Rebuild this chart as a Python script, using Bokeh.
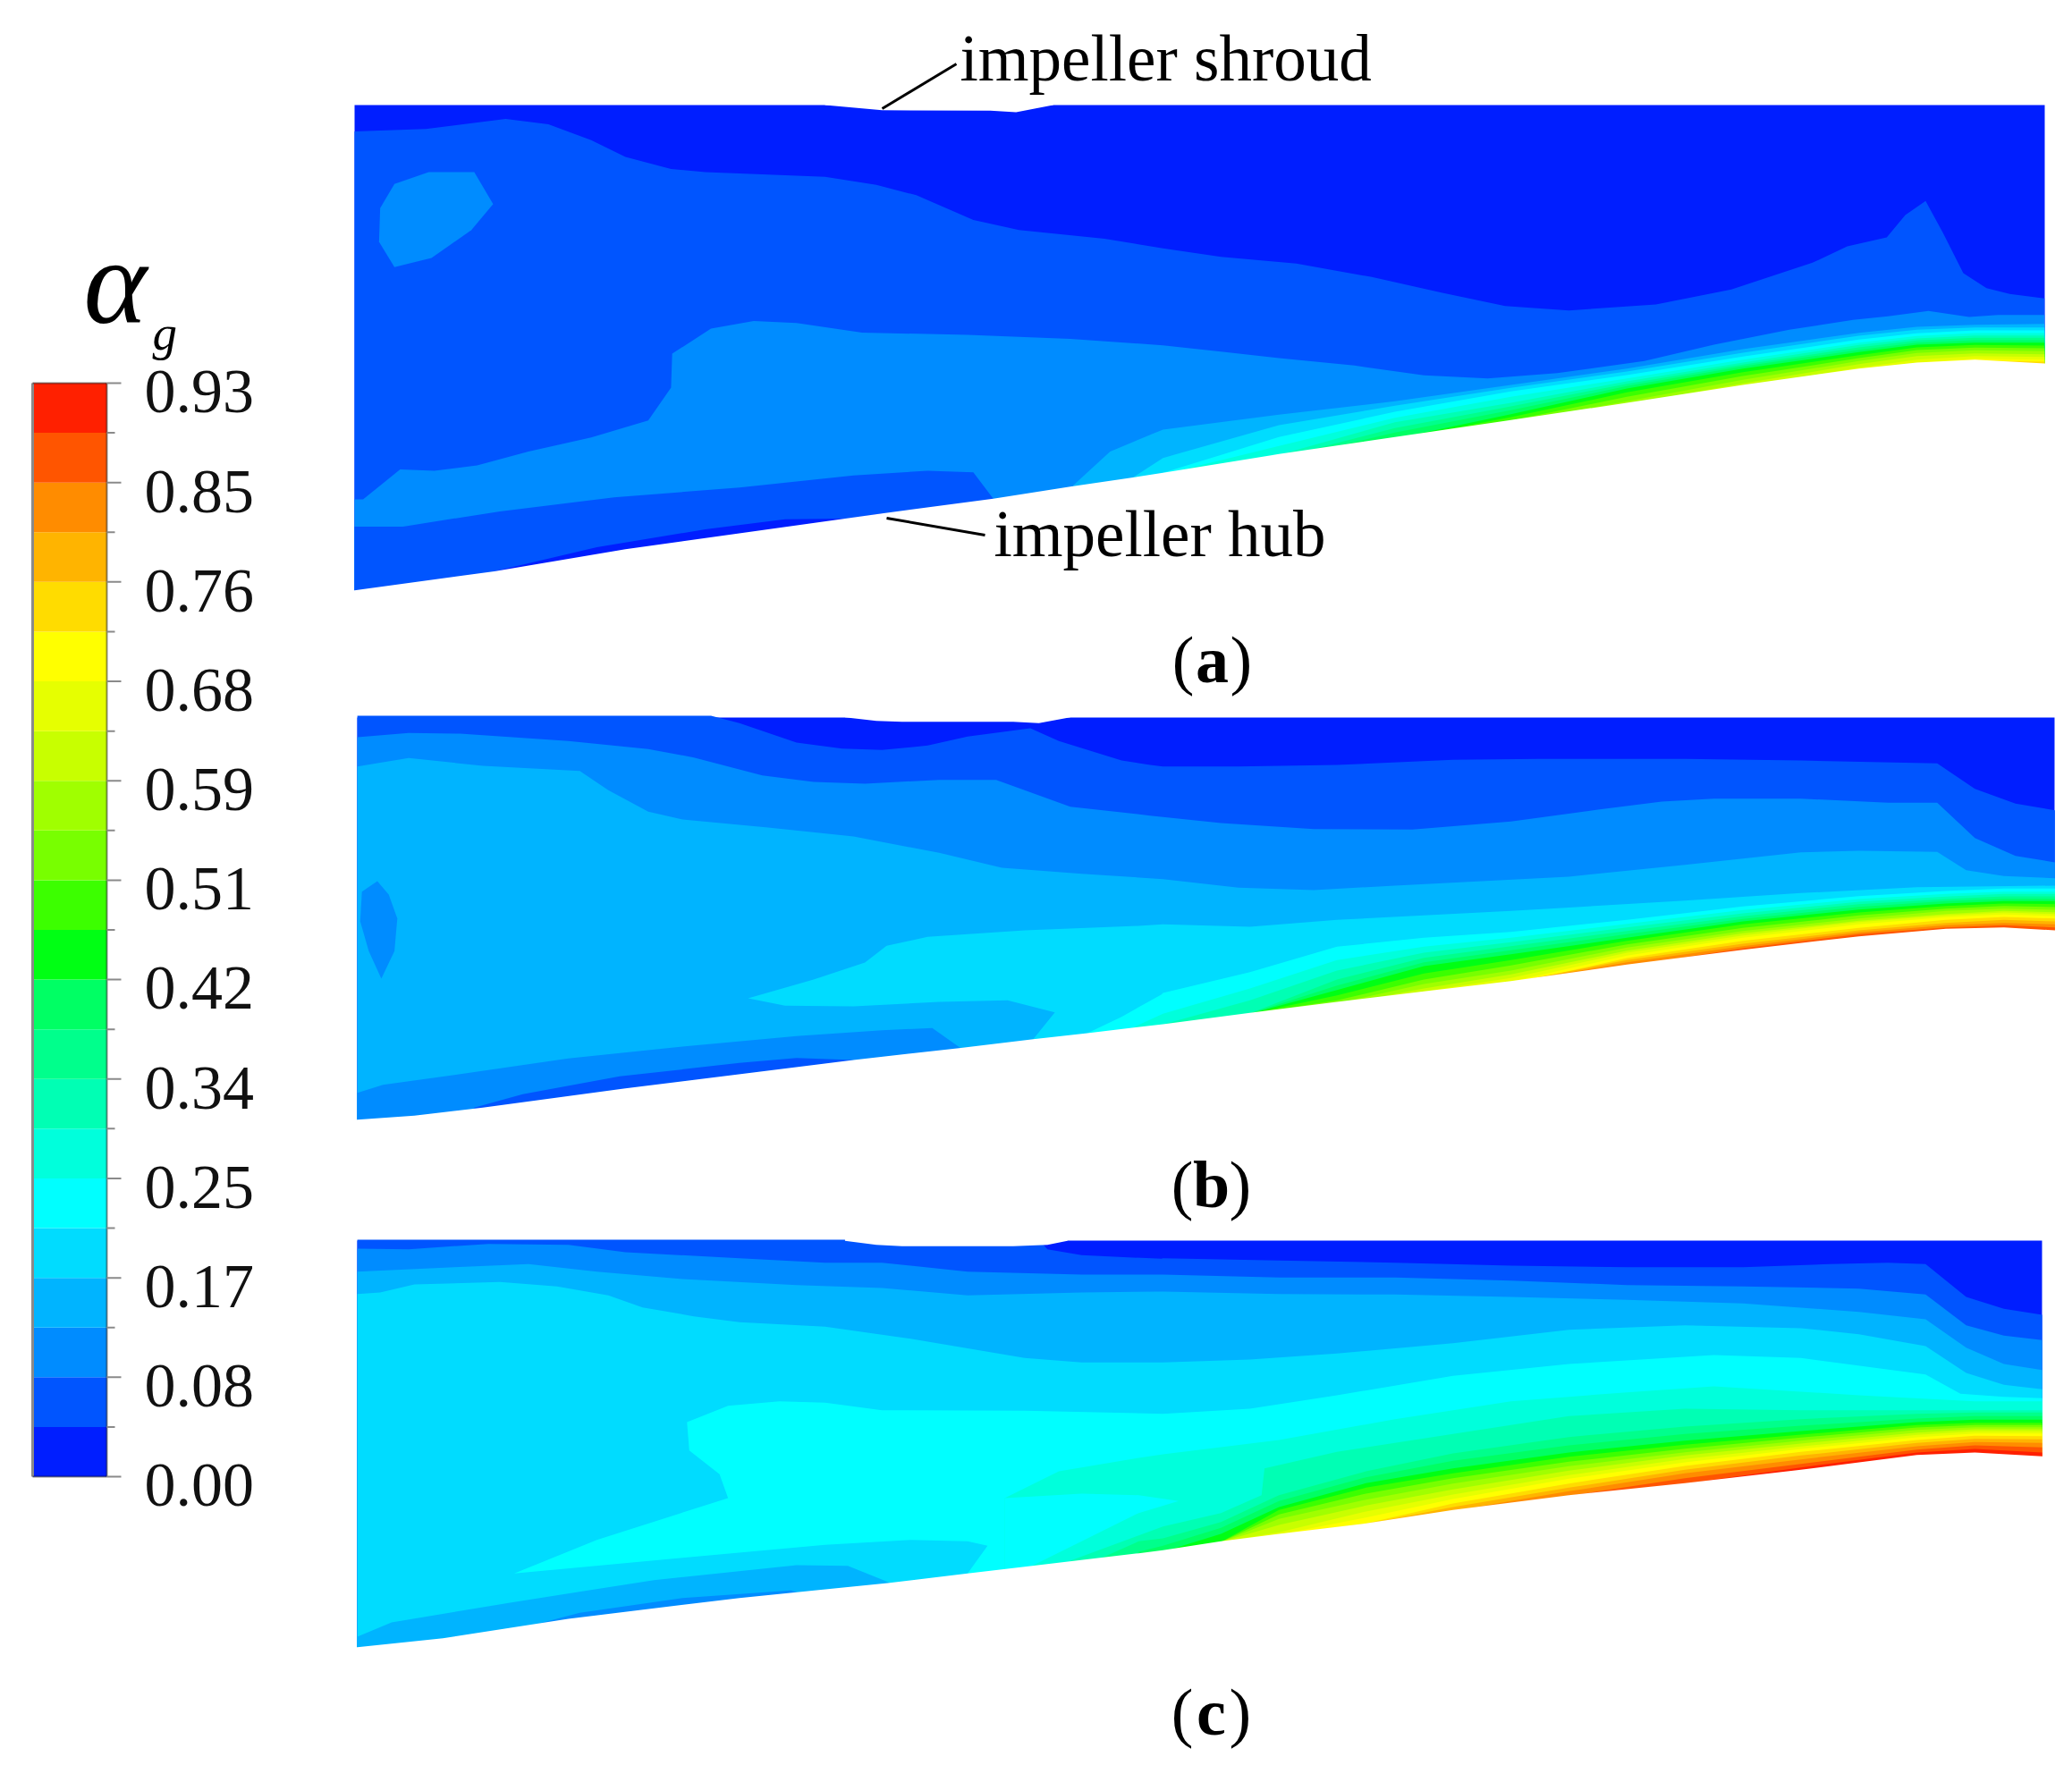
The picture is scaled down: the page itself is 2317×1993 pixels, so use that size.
from bokeh.embed import file_html
from bokeh.resources import INLINE
from bokeh.plotting import figure
from bokeh.core.properties import value

# ---- colour scale -------------------------------------------------------
BAND_COLORS = ["#001eff", "#0055ff", "#008cff", "#00b4ff", "#00dcff", "#00ffff",
               "#00ffdc", "#00ffb4", "#00ff8c", "#00ff64", "#00ff14", "#3cff00",
               "#78ff00", "#a0ff00", "#c8ff00", "#e6ff00", "#ffff00", "#ffdc00",
               "#ffb400", "#ff8c00", "#ff5500", "#ff2000"]
TICK_LABELS = ["0.00", "0.08", "0.17", "0.25", "0.34", "0.42",
               "0.51", "0.59", "0.68", "0.76", "0.85", "0.93"]

# Reading frames: origin x, origin y, x scale, y scale of contour readings
FA_L, FA_R = (380, 0, 1.568, 2.24), (1300, 100, 1.542, 3)
FB_L, FB_R = (380, 790, 1.568, 3), (1300, 790, 1.542, 3)
FC_L, FC_R = (380, 1370, 1.568, 3), (1300, 1370, 1.542, 3)

# ---- panel (a) ----------------------------------------------------------
A_SHROUD = [(850, 262), (950, 275), (1140, 276), (1185, 280), (1250, 262)]
A_HUB_L = [(25, 1478), (270, 1430), (500, 1375), (950, 1285), (1145, 1248), (1280, 1218), (1390, 1195)]
A_X = [0, 200, 400, 600, 800, 1000, 1200, 1300, 1400, 1520]
A_HUB_R = [1285, 1222, 1165, 1108, 1050, 990, 935, 915, 905, 918]
A_L1_L = [(25, 328), (150, 322), (290, 297), (365, 310), (440, 350), (500, 392), (580, 422), (640, 430),
          (850, 442), (940, 462), (1010, 488), (1110, 550), (1190, 575), (1340, 597)]
A_L1_R = [(0, 532), (100, 560), (230, 583), (360, 628), (480, 680), (590, 725), (700, 740), (850, 720), (980, 670),
          (1120, 580), (1180, 525), (1248, 495), (1280, 420), (1315, 373), (1345, 480), (1380, 615), (1420, 665),
          (1460, 685), (1520, 700)]
A_L2_L = [(25, 1250), (40, 1250), (105, 1175), (165, 1178), (240, 1165), (330, 1130), (440, 1095), (540, 1052),
          (580, 970), (582, 885), (650, 822), (725, 803), (800, 808), (915, 832), (1100, 838), (1280, 848)]
A_L2_R = [(0, 857), (100, 878), (200, 900), (330, 925), (450, 958), (560, 968), (680, 950), (830, 910), (950, 855),
          (1080, 805), (1190, 772), (1250, 760), (1320, 742), (1390, 762), (1440, 755), (1520, 755)]
A_POCKET1 = [(25, 1318), (110, 1318), (280, 1280), (480, 1245), (700, 1220), (900, 1190), (1030, 1178), (1110, 1182),
             (1145, 1248)]
A_SLIVER0 = [(270, 1430), (450, 1370), (640, 1325), (780, 1300), (890, 1298), (950, 1285)]
A_ISLAND2 = [(235, 430), (155, 430), (95, 460), (70, 520), (68, 605), (95, 668), (160, 645), (230, 575), (268, 510)]
A_L3_L = [(1285, 1215), (1350, 1130), (1425, 1085)]
A_L4_L = [(1390, 1195)]
A_L3 = [1140, 1090, 1045, 990, 935, 870, 815, 795, 788, 785]
A_L4 = [1235, 1125, 1060, 1000, 945, 882, 825, 805, 797, 797]
A_L5 = [1285, 1165, 1080, 1012, 957, 895, 838, 817, 807, 807]
A_L6 = [1290, 1195, 1100, 1030, 968, 905, 848, 826, 816, 816]
A_L7 = [1225, 1115, 1050, 978, 915, 856, 834, 824, 824]
A_L8 = [1235, 1135, 1062, 986, 922, 864, 841, 832, 832]
A_L9 = [1240, 1150, 1075, 994, 928, 872, 848, 840, 840]
A_L10 = [1170, 1088, 1002, 935, 880, 855, 848, 848]
A_L11 = [1172, 1098, 1015, 947, 890, 864, 856, 858]
A_L12 = [1109, 1030, 960, 900, 873, 865, 867]
A_L13 = [1115, 1045, 973, 910, 883, 874, 877]
A_L14 = [1055, 985, 920, 893, 884, 887]
A_L15 = [995, 932, 905, 893, 896]
A_L16 = [940, 915, 902, 905]
A_L17 = [920, 908, 912]

# ---- panel (b) ----------------------------------------------------------
B_SHROUD = [(885, 35), (940, 47), (985, 50), (1180, 50), (1225, 55), (1280, 35)]
B_HUB_L = [(30, 1385), (130, 1372), (250, 1345), (500, 1280), (900, 1185), (1085, 1145), (1215, 1115), (1310, 1095)]
B_X = [0, 150, 300, 450, 600, 800, 1000, 1200, 1350, 1450, 1538]
B_HUB_R = [1065, 1027, 990, 955, 920, 865, 815, 770, 745, 740, 750]
B_L1_L = [(30, 30), (650, 30), (700, 55), (800, 120), (880, 140), (950, 145), (1030, 130), (1100, 100), (1210, 72),
          (1260, 115), (1370, 180), (1420, 195)]
B_L1_R = [(0, 200), (130, 200), (300, 195), (500, 178), (650, 175), (900, 175), (1100, 180), (1335, 190), (1400, 275),
          (1470, 325), (1538, 347)]
B_L2_L = [(30, 102), (120, 88), (210, 90), (400, 115), (540, 142), (620, 170), (740, 230), (830, 252), (920, 258),
          (1050, 245), (1150, 245), (1280, 335), (1420, 365)]
B_L2_R = [(0, 370), (100, 390), (260, 410), (430, 412), (600, 385), (750, 345), (860, 318), (950, 308), (1100, 308),
          (1250, 322), (1335, 322), (1400, 440), (1470, 500), (1538, 522)]
B_L3_L = [(30, 200), (120, 172), (250, 198), (420, 215), (470, 280), (540, 352), (600, 378), (750, 405), (900, 435),
          (1050, 490), (1160, 540), (1300, 560)]
B_L3_R = [(0, 578), (130, 607), (260, 615), (400, 600), (700, 570), (900, 530), (1100, 488), (1200, 483), (1335, 487),
          (1385, 548), (1450, 568), (1538, 575)]
B_ISLAND2 = [(65, 585), (38, 620), (35, 720), (50, 820), (72, 912), (95, 820), (100, 710), (85, 630)]
B_POCKET2 = [(30, 1295), (75, 1268), (200, 1235), (400, 1180), (600, 1140), (800, 1105), (950, 1085), (1038, 1078),
             (1088, 1145)]
B_POCKET1 = [(235, 1345), (320, 1300), (490, 1240), (700, 1195), (800, 1178), (900, 1185)]
B_L4_L = [(1215, 1115), (1253, 1025), (1170, 985), (1050, 990), (900, 1005), (780, 1003), (715, 978), (830, 915),
          (920, 858), (958, 802), (1030, 772), (1200, 750), (1400, 735)]
B_L4_R = [(0, 730), (150, 738), (300, 715), (600, 685), (900, 650), (1100, 625), (1300, 605), (1538, 600)]
B_L5_L = [(1310, 1095), (1370, 1040), (1440, 965)]
B_L6_L = [(1380, 1085)]
B_L5 = [960, 890, 805, 775, 755, 715, 670, 635, 618, 610, 610]
B_L6 = [1030, 945, 850, 805, 775, 728, 682, 645, 628, 620, 620]
B_L7 = [1066, 985, 885, 825, 790, 740, 693, 654, 637, 628, 628]
B_L8 = [1028, 915, 842, 803, 752, 703, 662, 645, 636, 636]
B_L9 = [1029, 935, 857, 817, 763, 712, 671, 652, 644, 644]
B_L10 = [1030, 950, 870, 830, 775, 720, 680, 660, 652, 652]
B_L11 = [1030, 968, 895, 850, 785, 730, 690, 668, 660, 662]
B_L12 = [1030, 985, 915, 868, 797, 742, 700, 677, 668, 672]
B_L13 = [995, 930, 885, 808, 752, 710, 685, 677, 681]
B_L14 = [1000, 945, 898, 818, 760, 718, 695, 685, 689]
B_L15 = [1005, 955, 910, 825, 767, 722, 700, 690, 695]
B_L16 = [960, 922, 835, 775, 730, 706, 697, 702]
B_L17 = [965, 930, 843, 785, 742, 715, 705, 710]
B_L18 = [925, 850, 795, 750, 725, 715, 720]
B_L19 = [926, 857, 803, 757, 733, 725, 730]
B_L20 = [870, 810, 763, 740, 733, 740]

# ---- panel (c) ----------------------------------------------------------
C_SHROUD = [(885, 52), (940, 65), (985, 70), (1180, 70), (1240, 65), (1275, 52)]
C_HUB_L = [(30, 1415), (180, 1385), (400, 1320), (700, 1250), (960, 1200), (1100, 1168), (1200, 1145), (1400, 1100)]
C_X = [0, 100, 200, 350, 500, 700, 900, 1100, 1300, 1400, 1516]
C_HUB_R = [1090, 1060, 1035, 1000, 955, 905, 865, 820, 770, 762, 775]
C_L1_L = [(30, 48), (1225, 48), (1240, 80), (1300, 100), (1440, 112)]
C_L1_R = [(0, 110), (200, 118), (400, 125), (600, 135), (800, 140), (1000, 140), (1150, 130), (1250, 125), (1315, 130),
          (1385, 240), (1450, 280), (1516, 300)]
C_L2_L = [(30, 78), (120, 80), (260, 62), (400, 65), (500, 90), (700, 110), (850, 125), (950, 125), (1100, 155),
          (1300, 165)]
C_L2_R = [(0, 165), (200, 175), (400, 175), (600, 185), (800, 200), (1000, 205), (1200, 212), (1315, 232), (1385, 335),
          (1450, 370), (1516, 385)]
C_L3_L = [(30, 155), (200, 140), (330, 130), (450, 155), (600, 180), (800, 200), (950, 210), (1100, 235), (1300, 225)]
C_L3_R = [(0, 222), (200, 230), (400, 232), (600, 240), (800, 250), (1000, 262), (1200, 290), (1315, 315), (1385, 410),
          (1450, 465), (1516, 485)]
C_L4_L = [(30, 230), (70, 225), (130, 198), (280, 190), (380, 205), (470, 235), (530, 275), (620, 305), (700, 325),
          (850, 340), (1000, 380), (1200, 445), (1300, 460)]
C_L4_R = [(0, 460), (150, 450), (300, 430), (500, 395), (700, 350), (900, 335), (1100, 345), (1200, 365), (1315, 405),
          (1385, 495), (1450, 535), (1516, 550)]
C_POCKET3 = [(30, 1380), (90, 1332), (300, 1265), (550, 1190), (800, 1140), (890, 1142), (965, 1200)]
C_POCKET2 = [(290, 1365), (420, 1300), (600, 1250), (790, 1225), (815, 1240)]
C_L5_L = [(1100, 1168), (1135, 1075), (1100, 1060), (1000, 1055), (850, 1072), (600, 1115), (305, 1168), (450, 1055),
          (680, 915), (665, 835), (612, 755), (608, 660), (680, 605), (770, 590), (850, 595), (950, 620), (1200, 622)]
C_L5_R = [(0, 632), (150, 615), (300, 570), (500, 505), (700, 465), (950, 435), (1100, 445), (1315, 500), (1375, 565),
          (1450, 575), (1516, 580)]
C_L6_L = [(1165, 1175), (1165, 915), (1260, 825), (1400, 780)]
C_L6_R = [(0, 768), (200, 720), (400, 650), (600, 590), (800, 560), (950, 540), (1200, 570), (1400, 590), (1516, 590)]
C_POCKET5 = [(1165, 915), (1300, 900), (1400, 905), (1470, 925), (1400, 965), (1300, 1060), (1205, 1150), (1165, 1165)]
C_L7_L = [(1280, 1125), (1400, 1040)]
C_L7_R = [(0, 1010), (100, 965), (170, 905), (175, 815), (300, 760), (500, 700), (700, 640), (900, 615), (1100, 620),
          (1300, 620), (1516, 620)]
C_L8_L = [(1330, 1120), (1400, 1060)]
C_L9_L = [(1400, 1095)]
C_L8 = [1050, 995, 905, 825, 765, 710, 675, 650, 632, 628, 628]
C_L9 = [1075, 1015, 925, 845, 790, 738, 700, 672, 648, 640, 640]
C_L10 = [1095, 1035, 945, 865, 815, 762, 722, 690, 660, 652, 652]
C_L11 = [1062, 955, 880, 832, 776, 736, 702, 670, 662, 662]
C_L12 = [1062, 970, 900, 848, 793, 749, 712, 678, 670, 670]
C_L13 = [1062, 985, 920, 866, 808, 761, 722, 686, 677, 677]
C_L14 = [1062, 1005, 940, 886, 823, 772, 732, 695, 684, 684]
C_L15 = [1062, 1030, 960, 903, 838, 784, 742, 703, 691, 691]
C_L16 = [1037, 980, 918, 850, 795, 750, 711, 698, 698]
C_L17 = [1037, 1000, 933, 866, 807, 760, 720, 706, 707]
C_L18 = [1002, 945, 880, 820, 772, 730, 716, 718]
C_L19 = [1002, 958, 892, 832, 785, 741, 727, 730]
C_L20 = [957, 907, 848, 800, 752, 738, 745]
C_L21 = [907, 866, 812, 762, 750, 762]

# ---- annotations --------------------------------------------------------
LEADER_X = [[986, 1069], [991, 1101]]
LEADER_Y = [[121, 71], [579, 598]]
CALLOUTS = ["impeller shroud", "impeller hub"]
CALLOUT_X = [1073, 1111]
CALLOUT_Y = [89, 621]
CAPTION_LETTERS = ["a", "b", "c"]
CAPTION_X = [1355, 1354, 1354]
CAPTION_Y = [762, 1349, 1939]
SPLIT_X = 1300
BAR_LEFT, BAR_RIGHT, BAR_TOP, BAR_BOTTOM = 36, 119, 428, 1651
BASELINE_SHIFT = 0.33


def full(frame, pts):
    ox, oy, sx, sy = frame
    return [(ox + x / sx, oy + y / sy) for x, y in pts]


def row(stations, vals):
    return list(zip(stations[-len(vals):], vals))


xs_all, ys_all, colors_all = [], [], []


def add(pts, color):
    xs_all.append([q[0] for q in pts])
    ys_all.append([q[1] for q in pts])
    colors_all.append(color)


def panel(fl, fr, left, right, top, bottom, hub_l, hub_x, hub_r, shroud, layers):
    def line(lp, rp):
        a = [q for q in full(fl, lp) if q[0] < SPLIT_X or not rp]
        return a + full(fr, rp)

    add([(left, top), (right, top), (right, bottom), (left, bottom)], BAND_COLORS[0])
    for kind, level, lp, rp in layers:
        pts = line(lp, rp)
        if kind == "under":
            pts = pts + [(pts[-1][0], bottom), (pts[0][0], bottom)]
        add(pts, BAND_COLORS[level])
    hub = line(hub_l, row(hub_x, hub_r))
    add(hub + [(right + 3, hub[-1][1]), (right + 3, bottom + 3), (left - 3, bottom + 3), (left - 3, hub[0][1])], "#ffffff")
    sh = full(fl, shroud)
    add([(sh[0][0], top - 3)] + sh + [(sh[-1][0], top - 3)], "#ffffff")


U, C = "under", "closed"
panel(FA_L, FA_R, 396, 2286, 117, 668, A_HUB_L, A_X, A_HUB_R, A_SHROUD, [
    (U, 1, A_L1_L, A_L1_R), (U, 2, A_L2_L, A_L2_R), (C, 2, A_ISLAND2, []),
    (U, 1, A_POCKET1, []), (U, 0, A_SLIVER0, []),
    (U, 3, A_L3_L, row(A_X, A_L3)), (U, 4, A_L4_L, row(A_X, A_L4)), (U, 5, [], row(A_X, A_L5)),
    (U, 6, [], row(A_X, A_L6)), (U, 7, [], row(A_X, A_L7)), (U, 8, [], row(A_X, A_L8)),
    (U, 9, [], row(A_X, A_L9)), (U, 10, [], row(A_X, A_L10)), (U, 11, [], row(A_X, A_L11)),
    (U, 12, [], row(A_X, A_L12)), (U, 13, [], row(A_X, A_L13)), (U, 14, [], row(A_X, A_L14)),
    (U, 15, [], row(A_X, A_L15)), (U, 16, [], row(A_X, A_L16)), (U, 17, [], row(A_X, A_L17)),
])
panel(FB_L, FB_R, 399, 2297, 802, 1262, B_HUB_L, B_X, B_HUB_R, B_SHROUD, [
    (U, 1, B_L1_L, B_L1_R), (U, 2, B_L2_L, B_L2_R), (U, 3, B_L3_L, B_L3_R), (C, 2, B_ISLAND2, []),
    (U, 2, B_POCKET2, []), (U, 1, B_POCKET1, []), (U, 4, B_L4_L, B_L4_R),
    (U, 5, B_L5_L, row(B_X, B_L5)), (U, 6, B_L6_L, row(B_X, B_L6)), (U, 7, [], row(B_X, B_L7)),
    (U, 8, [], row(B_X, B_L8)), (U, 9, [], row(B_X, B_L9)), (U, 10, [], row(B_X, B_L10)),
    (U, 11, [], row(B_X, B_L11)), (U, 12, [], row(B_X, B_L12)), (U, 13, [], row(B_X, B_L13)),
    (U, 14, [], row(B_X, B_L14)), (U, 15, [], row(B_X, B_L15)), (U, 16, [], row(B_X, B_L16)),
    (U, 17, [], row(B_X, B_L17)), (U, 18, [], row(B_X, B_L18)), (U, 19, [], row(B_X, B_L19)),
    (U, 20, [], row(B_X, B_L20)),
])
panel(FC_L, FC_R, 399, 2283, 1387, 1852, C_HUB_L, C_X, C_HUB_R, C_SHROUD, [
    (U, 1, C_L1_L, C_L1_R), (U, 2, C_L2_L, C_L2_R), (U, 3, C_L3_L, C_L3_R), (U, 4, C_L4_L, C_L4_R),
    (U, 3, C_POCKET3, []), (U, 2, C_POCKET2, []), (U, 5, C_L5_L, C_L5_R), (U, 6, C_L6_L, C_L6_R),
    (C, 5, C_POCKET5, []), (U, 7, C_L7_L, C_L7_R),
    (U, 8, C_L8_L, row(C_X, C_L8)), (U, 9, C_L9_L, row(C_X, C_L9)), (U, 10, [], row(C_X, C_L10)),
    (U, 11, [], row(C_X, C_L11)), (U, 12, [], row(C_X, C_L12)), (U, 13, [], row(C_X, C_L13)),
    (U, 14, [], row(C_X, C_L14)), (U, 15, [], row(C_X, C_L15)), (U, 16, [], row(C_X, C_L16)),
    (U, 17, [], row(C_X, C_L17)), (U, 18, [], row(C_X, C_L18)), (U, 19, [], row(C_X, C_L19)),
    (U, 20, [], row(C_X, C_L20)), (U, 21, [], row(C_X, C_L21)),
])

p = figure(width=2301, height=1977, x_range=(0, 2301), y_range=(1977, 0),
           output_backend="svg", toolbar_location=None, min_border=0,
           outline_line_color=None, background_fill_color="#ffffff", border_fill_color="#ffffff")
p.axis.visible = False
p.grid.visible = False

p.patches(xs_all, ys_all, fill_color=colors_all, line_color=None)

# colour bar
n = len(BAND_COLORS)
step = (BAR_BOTTOM - BAR_TOP) / n
edges = [BAR_BOTTOM - i * step for i in range(n + 1)]
p.quad(left=BAR_LEFT, right=BAR_RIGHT, bottom=edges[:-1], top=edges[1:], fill_color=BAND_COLORS, line_color=None)
p.segment(x0=[BAR_LEFT], y0=[BAR_TOP], x1=[BAR_LEFT], y1=[BAR_BOTTOM], line_color="#8a8a8a", line_width=3)
p.segment(x0=[BAR_RIGHT], y0=[BAR_TOP], x1=[BAR_RIGHT], y1=[BAR_BOTTOM], line_color="#000000", line_alpha=0.45, line_width=2)
p.segment(x0=[BAR_LEFT], y0=[BAR_TOP], x1=[BAR_RIGHT], y1=[BAR_TOP], line_color="#000000", line_alpha=0.45, line_width=2)
p.segment(x0=[BAR_LEFT], y0=[BAR_BOTTOM], x1=[BAR_RIGHT], y1=[BAR_BOTTOM], line_color="#000000", line_alpha=0.45, line_width=2)
p.segment(x0=[BAR_RIGHT] * (n + 1), y0=edges,
          x1=[135 if i % 2 == 0 else 128 for i in range(n + 1)], y1=edges,
          line_color="#8a8a8a", line_width=2)

SERIF = value("Liberation Serif")


def label(x, y, text, size, **kw):
    kw.setdefault("text_color", "#000000")
    kw.setdefault("text_align", "left")
    p.text(x=x, y=[v - BASELINE_SHIFT * size for v in y], text=text, text_font=SERIF,
           text_font_size=value(f"{size}px"), text_baseline="alphabetic", **kw)


tick_y = [edges[i] + 33 for i in range(0, n + 1, 2)]
label([161] * len(TICK_LABELS), tick_y, TICK_LABELS, 70, text_color="#111111")
label([93], [360], ["\u03b1"], 135, text_font_style="italic")
label([170], [390], ["g"], 55, text_font_style="italic")

# call-outs
p.multi_line(LEADER_X, LEADER_Y, line_color="#000000", line_width=3)
label(CALLOUT_X, CALLOUT_Y, CALLOUTS, 73)

# captions: regular brackets round a bold letter
label(CAPTION_X, CAPTION_Y, CAPTION_LETTERS, 74, text_font_style="bold", text_align="center")
label([c - 20 for c in CAPTION_X], CAPTION_Y, ["("] * 3, 74, text_align="right")
label([c + 20 for c in CAPTION_X], CAPTION_Y, [")"] * 3, 74)

open("out.html", "w").write(file_html(p, INLINE))
